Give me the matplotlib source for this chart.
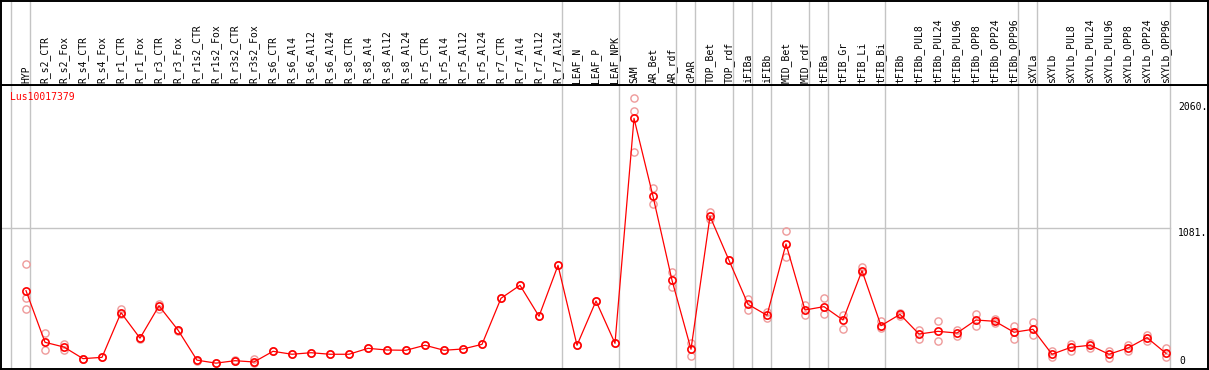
import matplotlib
matplotlib.use("Agg")
import matplotlib.pyplot as plt
import matplotlib.transforms as mtransforms

# sample names along the x axis
samples = [
    "HYP", "R_s2_CTR", "R_s2_Fox", "R_s4_CTR", "R_s4_Fox", "R_r1_CTR", "R_r1_Fox",
    "R_r3_CTR", "R_r3_Fox", "R_r1s2_CTR", "R_r1s2_Fox", "R_r3s2_CTR", "R_r3s2_Fox",
    "R_s6_CTR", "R_s6_Al4", "R_s6_Al12", "R_s6_Al24", "R_s8_CTR", "R_s8_Al4",
    "R_s8_Al12", "R_s8_Al24", "R_r5_CTR", "R_r5_Al4", "R_r5_Al12", "R_r5_Al24",
    "R_r7_CTR", "R_r7_Al4", "R_r7_Al12", "R_r7_Al24", "LEAF_N", "LEAF_P", "LEAF_NPK",
    "SAM", "AR_Bet", "AR_rdf", "cPAR", "TOP_Bet", "TOP_rdf", "iFIBa", "iFIBb",
    "MID_Bet", "MID_rdf", "tFIBa", "tFIB_Gr", "tFIB_Li", "tFIB_Bi", "tFIBb",
    "tFIBb_PUL8", "tFIBb_PUL24", "tFIBb_PUL96", "tFIBb_OPP8", "tFIBb_OPP24",
    "tFIBb_OPP96", "sXYLa", "sXYLb", "sXYLb_PUL8", "sXYLb_PUL24", "sXYLb_PUL96",
    "sXYLb_OPP8", "sXYLb_OPP24", "sXYLb_OPP96",
]

# mean expression per sample
means = [
    593, 192, 155, 65, 75, 422, 224, 475, 287, 53, 30, 49, 39,
    122, 99, 111, 99, 99, 145, 132, 130, 169, 130, 140, 176,
    534, 635, 394, 790, 169, 513, 184,
    1932, 1326, 674, 138, 1171, 829, 487, 402, 956, 443,
    469, 365, 748, 321, 409, 256, 277, 264, 365, 355, 270,
    293, 99, 153, 169, 99, 148, 228, 106,
]

# individual replicates per sample
replicates = [
    [798, 538, 448], [262, 130], [179, 130], [65, 60], [75], [448, 410], [224, 215],
    [490, 453], [287, 280], [53, 48], [30], [49, 56], [60, 30],
    [122], [99], [111], [99], [99], [145], [132], [130], [169], [130], [140], [176],
    [534], [635], [394], [790], [169], [513], [184],
    [2088, 1989, 1668], [1389, 1264], [736, 619], [184, 83], [1202, 1148], [829],
    [528, 443], [425, 381], [1054, 857], [479, 402],
    [534, 409], [404, 293], [779, 740], [360, 305], [422, 400], [287, 220],
    [357, 200], [290, 243], [412, 319], [371, 345], [319, 220],
    [347, 246], [127, 78], [176, 127], [189, 148], [127, 67], [171, 127],
    [249, 204], [145, 80],
]

# last sample index of each group (separator lines)
group_ends = [-1, 0, 28, 31, 34, 35, 37, 38, 39, 41, 42, 45, 52, 53, 60]

gene = "Lus10017379"
axis_labels = ["2060.", "1081."]
axis_values = [2060, 1081]

W, H = 1209, 370
fig = plt.figure(figsize=(W / 100, H / 100), dpi=100)
plt.rcParams["font.family"] = ["DejaVu Sans Mono"]

ax = fig.add_axes([1 / W, 1 / H, 1207 / W, 284 / H])
ax_h = fig.add_axes([1 / W, (H - 85) / H, 1207 / W, 84.5 / H])

xlim = ((1 - 26) / 19, (1208 - 26) / 19)
for a in (ax, ax_h):
    a.set_xlim(*xlim)
    a.set_xticks([])
    a.set_yticks([])
    for s in a.spines.values():
        s.set_color("black")
        s.set_linewidth(1.4)
    for g in group_ends:
        a.axvline(g + 4 / 19, color="#c4c4c4", lw=1.0, zorder=0)

ax.set_ylim((367 - 369) / 0.1287, (367 - 85) / 0.1287)
ax_h.set_ylim(0, 1)

# horizontal reference line up to the last separator
ax.plot([xlim[0], group_ends[-1] + 4 / 19], [1081, 1081], color="#c4c4c4", lw=1.0, zorder=0)

x = list(range(len(samples)))
rx, ry = [], []
for i, reps in enumerate(replicates):
    for v in reps:
        rx.append(i)
        ry.append(v)
ax.plot(rx, ry, "o", ms=5.2, mfc="none", mec="#ee9a9a", mew=1.0, zorder=2)
ax.plot(x, means, "-", color="#ff0000", lw=0.9, zorder=3)
ax.plot(x, means, "o", ms=5.2, mfc="none", mec="#ff0000", mew=1.2, zorder=4)

# sample labels in the header
for i, name in enumerate(samples):
    ax_h.text(i, 0.025, name, rotation=90, ha="center", va="bottom", fontsize=7)

ax.text(9 / 1207, 1 - 12 / 284, gene, color="#ff0000", fontsize=7,
        ha="left", va="center", transform=ax.transAxes)

trans = mtransforms.blended_transform_factory(ax.transAxes, ax.transData)
for lab, v in zip(axis_labels, axis_values):
    ax.text(1177 / 1207, v, lab, fontsize=7, ha="left", va="top", transform=trans)
ax.text(1178 / 1207, 3 / 284, "0", fontsize=7, ha="left", va="bottom", transform=ax.transAxes)

fig.savefig("out.png", dpi=100)
